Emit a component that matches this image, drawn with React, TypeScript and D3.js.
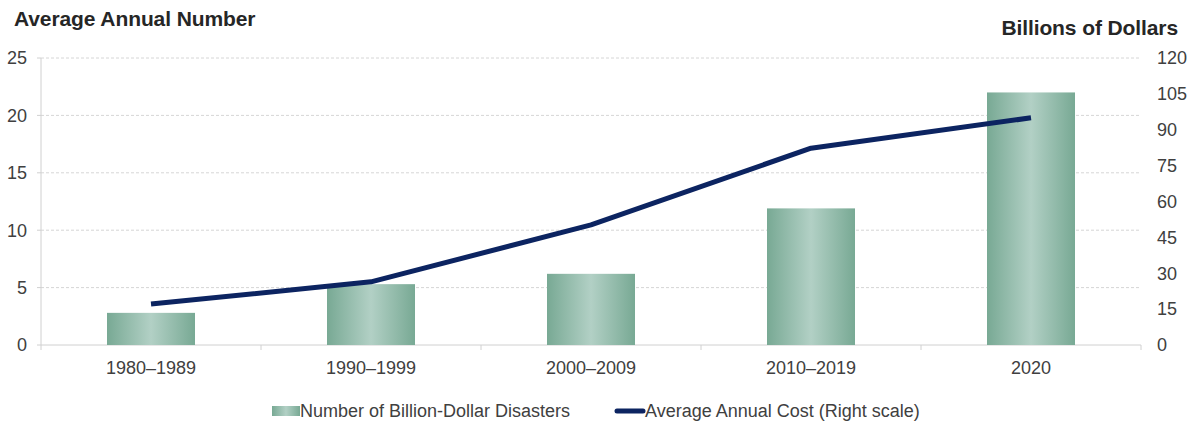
import React from "react";
import * as d3 from "d3";

const categories = ["1980–1989", "1990–1999", "2000–2009", "2010–2019", "2020"];
const disasterCounts = [2.8, 5.3, 6.2, 11.9, 22.0];
const annualCost = [17.1, 26.4, 50.2, 82.3, 95.0];
const leftTicks = [0, 5, 10, 15, 20, 25];
const rightTicks = [0, 15, 30, 45, 60, 75, 90, 105, 120];

const W = 1193;
const H = 425;
const M = { left: 41, right: 1141, top: 58, bottom: 345 };
const FONT = "'Liberation Sans', Arial, sans-serif";

export default function App() {
  const x = d3.scaleBand<string>().domain(categories).range([M.left, M.right]).paddingInner(0.6).paddingOuter(0.3);
  const xc = d3.scaleBand<string>().domain(categories).range([M.left, M.right]);
  const yL = d3.scaleLinear().domain([0, 25]).range([M.bottom, M.top]);
  const yR = d3.scaleLinear().domain([0, 120]).range([M.bottom, M.top]);
  const line = d3
    .line<number>()
    .x((_, i) => (xc(categories[i]) as number) + xc.bandwidth() / 2)
    .y((d) => yR(d));

  const boundaries = categories.map((c) => xc(c) as number).concat([M.right]);

  return (
    <svg width={W} height={H} style={{ position: "absolute", left: 0, top: 0 }} fontFamily={FONT}>
      <defs>
        <linearGradient id="barGrad" x1="0" x2="1" y1="0" y2="0">
          <stop offset="0" stopColor="#78a994" />
          <stop offset="0.5" stopColor="#b2d0c5" />
          <stop offset="1" stopColor="#78a994" />
        </linearGradient>
      </defs>
      <rect width={W} height={H} fill="#fff" />
      {leftTicks.slice(1).map((t) => (
        <line key={t} x1={M.left} x2={M.right} y1={yL(t)} y2={yL(t)} stroke="#d6d6d6" strokeDasharray="3,2" />
      ))}
      {/* left axis */}
      <line x1={M.left} x2={M.left} y1={M.top} y2={M.bottom} stroke="#d0d0d0" />
      {leftTicks.map((t) => (
        <g key={t}>
          <line x1={M.left - 4} x2={M.left} y1={yL(t)} y2={yL(t)} stroke="#d0d0d0" />
          <text x={27} y={yL(t)} dy="0.35em" textAnchor="end" fontSize={18} fill="#404040">
            {t}
          </text>
        </g>
      ))}
      {rightTicks.map((t) => (
        <text key={t} x={1157} y={yR(t)} dy="0.35em" textAnchor="start" fontSize={18} fill="#404040">
          {t}
        </text>
      ))}
      {/* bottom axis */}
      <line x1={M.left} x2={M.right} y1={M.bottom} y2={M.bottom} stroke="#d0d0d0" />
      {boundaries.map((b, i) => (
        <line key={i} x1={b} x2={b} y1={M.bottom} y2={M.bottom + 5} stroke="#d0d0d0" />
      ))}
      {categories.map((c) => (
        <text key={c} x={(xc(c) as number) + xc.bandwidth() / 2} y={374} textAnchor="middle" fontSize={18} fill="#404040">
          {c}
        </text>
      ))}
      {disasterCounts.map((v, i) => (
        <rect
          key={i}
          x={x(categories[i])}
          y={yL(v)}
          width={x.bandwidth()}
          height={yL(0) - yL(v)}
          fill="url(#barGrad)"
        />
      ))}
      <path d={line(annualCost) as string} fill="none" stroke="#0c2461" strokeWidth={5} strokeLinejoin="round" />
      <text x={14} y={26} fontSize={21} fontWeight="bold" fill="#262626" letterSpacing="-0.1">
        Average Annual Number
      </text>
      <text x={1178} y={35} textAnchor="end" fontSize={21} fontWeight="bold" fill="#262626" letterSpacing="-0.1">
        Billions of Dollars
      </text>
      {/* legend */}
      <rect x={272} y={406} width={28} height={10} fill="url(#barGrad)" />
      <text x={300} y={417} fontSize={18} fill="#404040">
        Number of Billion-Dollar Disasters
      </text>
      <line x1={617} x2={643} y1={411} y2={411} stroke="#0c2461" strokeWidth={5} strokeLinecap="round" />
      <text x={645} y={417} fontSize={18} fill="#404040">
        Average Annual Cost (Right scale)
      </text>
    </svg>
  );
}
